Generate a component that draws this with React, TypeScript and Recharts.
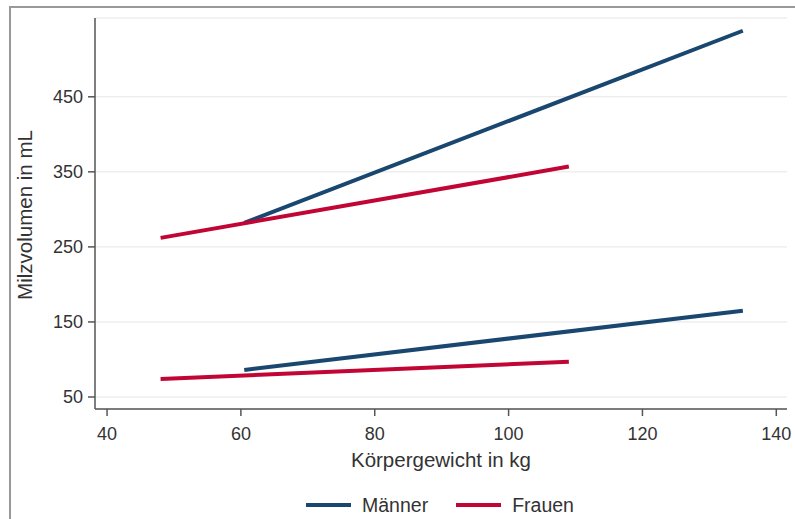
import React from 'react';
import { LineChart, Line, XAxis, YAxis, CartesianGrid, Legend } from 'recharts';

const menWeight = [60.5, 135];
const womenWeight = [48, 109];
const menUpper = [282, 538];
const menLower = [86, 165];
const womenUpper = [262, 357];
const womenLower = [74, 97];
const xTicks = [40, 60, 80, 100, 120, 140];
const yTicks = [50, 150, 250, 350, 450];
const seriesNames = ['Männer', 'Frauen'];

const NAVY = '#1a476f';
const RED = '#c10534';
const FONT = '"Liberation Sans", Arial, sans-serif';

const toPoints = (xs: number[], ys: number[]) => xs.map((x, i) => ({ x, y: ys[i] }));

const menUpperData = toPoints(menWeight, menUpper);
const menLowerData = toPoints(menWeight, menLower);
const womenUpperData = toPoints(womenWeight, womenUpper);
const womenLowerData = toPoints(womenWeight, womenLower);

const LegendContent = () => (
  <div
    style={{
      display: 'flex',
      justifyContent: 'center',
      alignItems: 'center',
      paddingLeft: 101,
      paddingRight: 8,
      paddingTop: 16,
      fontFamily: FONT,
      fontSize: 19.5,
      color: '#333',
      lineHeight: '20px',
    }}
  >
    {seriesNames.map((name, i) => (
      <div key={name} style={{ display: 'flex', alignItems: 'center', marginLeft: i === 0 ? 0 : 28 }}>
        <div style={{ width: 45, height: 4, background: i === 0 ? NAVY : RED, marginRight: 11 }} />
        <span>{name}</span>
      </div>
    ))}
  </div>
);

export default function App() {
  return (
    <div style={{ position: 'absolute', left: 0, top: 0, width: 795, height: 519, background: '#fff' }}>
      <div
        style={{
          position: 'absolute',
          left: 9,
          top: 6,
          width: 800,
          height: 520,
          borderTop: '2px solid #999',
          borderLeft: '2px solid #999',
        }}
      />
      <div style={{ position: 'absolute', left: 0, top: 0 }}>
        <LineChart width={795} height={519} margin={{ top: 18, right: 8, left: 0, bottom: 0 }}>
          <CartesianGrid vertical={false} stroke="#e6e6e6" strokeWidth={1} />
          <XAxis
            type="number"
            dataKey="x"
            domain={[38.2, 141.6]}
            ticks={xTicks}
            allowDataOverflow
            height={70}
            stroke="#555"
            strokeWidth={1.5}
            tickSize={7}
            tickMargin={11}
            tick={{ fill: '#333', fontSize: 18, fontFamily: FONT }}
            label={{
              content: () => (
                <text x={441} y={467} textAnchor="middle" fill="#333" fontSize={20.5} fontFamily={FONT}>
                  Körpergewicht in kg
                </text>
              ),
            }}
          />
          <YAxis
            type="number"
            dataKey="y"
            domain={[34, 555]}
            ticks={yTicks}
            allowDataOverflow
            width={95}
            stroke="#555"
            strokeWidth={1.5}
            tickSize={7}
            tickMargin={5}
            tick={{ fill: '#333', fontSize: 18, fontFamily: FONT }}
            label={{
              content: () => (
                <text
                  x={32}
                  y={215}
                  transform="rotate(-90 32 215)"
                  textAnchor="middle"
                  fill="#333"
                  fontSize={20.5}
                  fontFamily={FONT}
                >
                  Milzvolumen in mL
                </text>
              ),
            }}
          />
          <Legend verticalAlign="bottom" height={40} content={<LegendContent />} />
          <Line data={menUpperData} dataKey="y" name="Männer" stroke={NAVY} strokeWidth={4} dot={false} isAnimationActive={false} />
          <Line data={menLowerData} dataKey="y" name="Männer" stroke={NAVY} strokeWidth={4} dot={false} isAnimationActive={false} legendType="none" />
          <Line data={womenUpperData} dataKey="y" name="Frauen" stroke={RED} strokeWidth={4} dot={false} isAnimationActive={false} />
          <Line data={womenLowerData} dataKey="y" name="Frauen" stroke={RED} strokeWidth={4} dot={false} isAnimationActive={false} legendType="none" />
        </LineChart>
      </div>
    </div>
  );
}
